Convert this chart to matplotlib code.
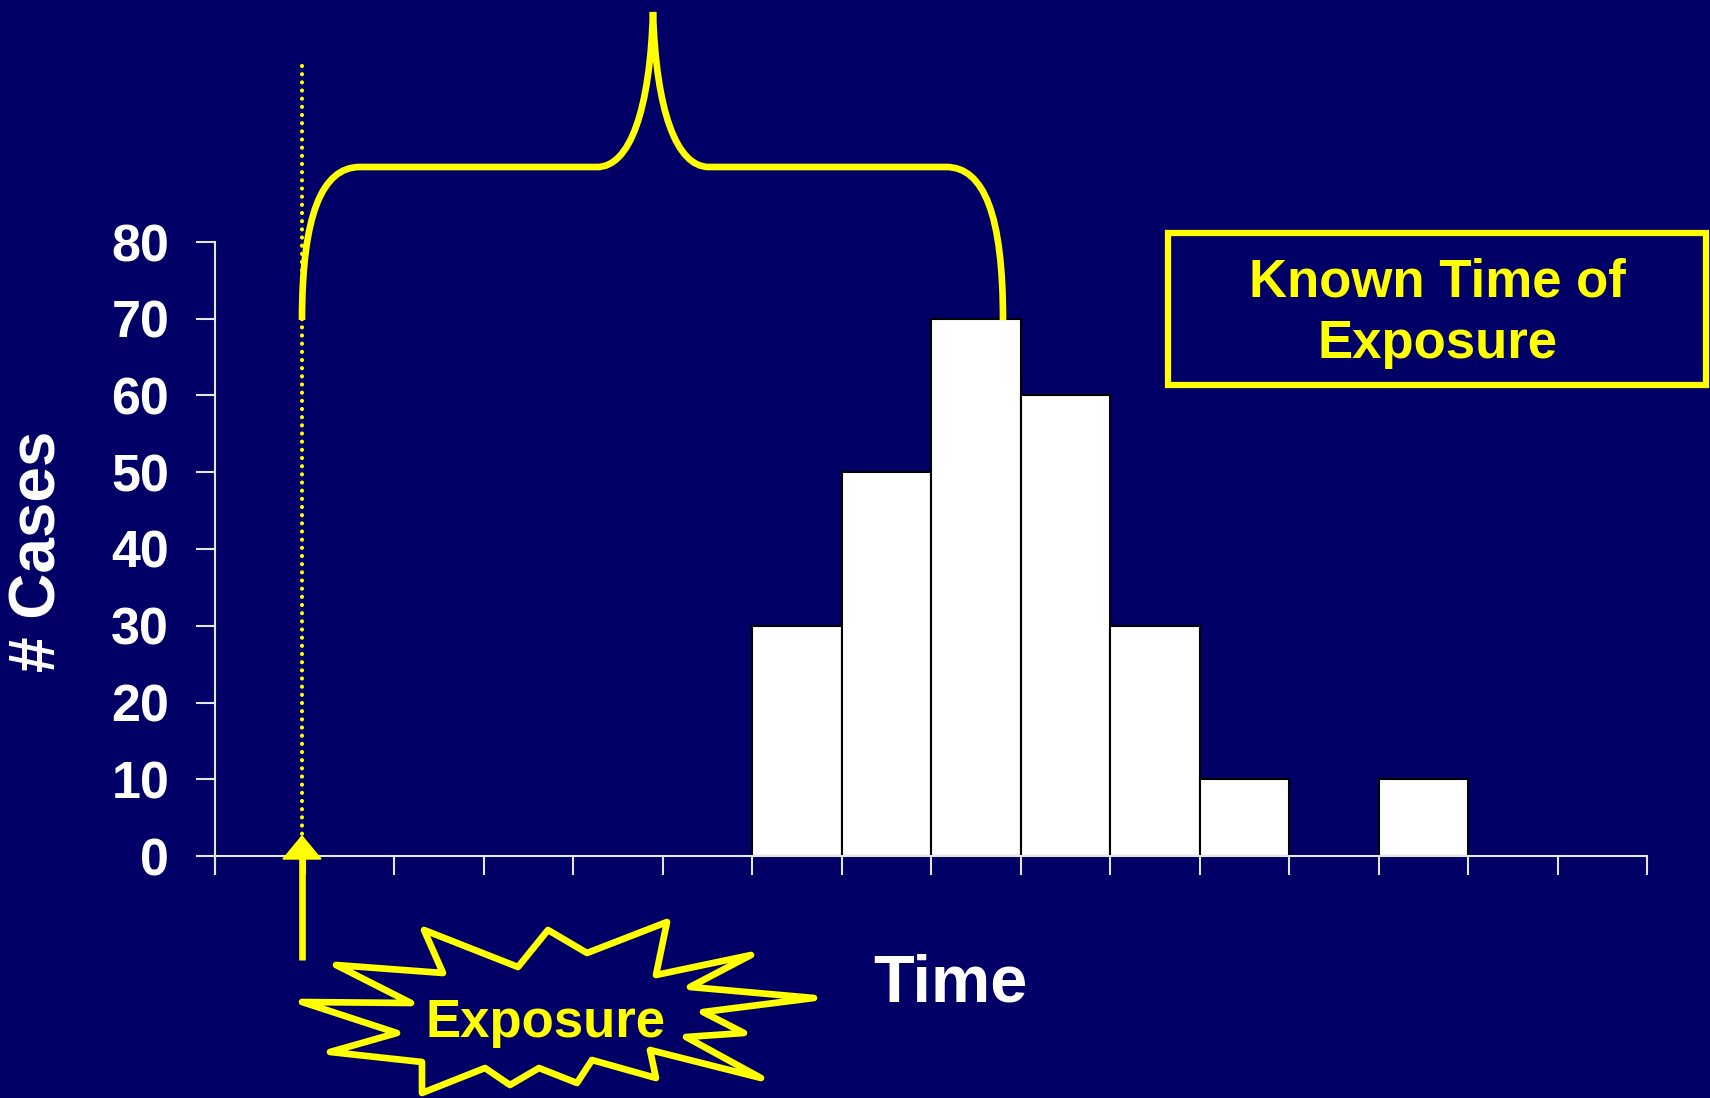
import matplotlib
matplotlib.use("Agg")
import matplotlib.pyplot as plt
from matplotlib.path import Path
from matplotlib.patches import PathPatch, Polygon, Rectangle
import numpy as np

# ---- data ----
time_bins = list(range(16))
cases = [0, 0, 0, 0, 0, 0, 30, 50, 70, 60, 30, 10, 0, 10, 0, 0]
y_ticks = [0, 10, 20, 30, 40, 50, 60, 70, 80]
x_label = "Time"
y_label = "# Cases"
box_text = "Known Time of\nExposure"
burst_text = "Exposure"

BG = "#000066"
YEL = "#FFFF00"
AXC = "#E6E6E6"
FONT = "Liberation Sans"

W, H = 1710, 1098
fig = plt.figure(figsize=(W / 100, H / 100), dpi=100, facecolor=BG)

def fx(px):
    return px / W

def fy(py):
    return 1 - py / H

# main axes: x 0..16 spans px 215..1647 ; y 0..80 spans px 856..242, extended to -2.3
ylo = -2.3
ppu = (856 - 242) / 80.0
bottom_px = 856 - ylo * ppu
ax = fig.add_axes([fx(215), fy(bottom_px), fx(1647) - fx(215), (bottom_px - 242) / H])
ax.set_facecolor(BG)
ax.bar([t + 0.5 for t in time_bins], cases, width=1.0, color="white",
       edgecolor="black", linewidth=1.5, zorder=2)
ax.set_xlim(0, 16)
ax.set_ylim(ylo, 80)
ax.set_xticks(range(17))
ax.set_xticklabels([])
ax.set_yticks(y_ticks)
ax.set_yticklabels([str(v) for v in y_ticks], fontsize=37.5, fontweight="bold",
                   color="white", family=FONT)
ax.tick_params(axis="both", direction="out", length=14, width=1.5, color=AXC)
ax.tick_params(axis="y", pad=19)
for s in ["top", "right"]:
    ax.spines[s].set_visible(False)
ax.spines["bottom"].set_position(("data", 0))
for s in ["left", "bottom"]:
    ax.spines[s].set_color(AXC)
    ax.spines[s].set_linewidth(1.5)
ax.spines["left"].set_zorder(3)

# overlay in pixel coords
ov = fig.add_axes([0, 0, 1, 1])
ov.set_xlim(0, W)
ov.set_ylim(H, 0)
ov.axis("off")
ov.patch.set_visible(False)

# dotted exposure line
ov.plot([302, 302], [66, 834], color=YEL, lw=3.0, linestyle=(0, (0.01, 1.95)),
        dash_capstyle="round")

# arrow
ov.plot([302, 302], [960, 850], color=YEL, lw=4.8, solid_capstyle="butt")
ov.add_patch(Polygon([[283, 859], [321, 859], [302, 836]], closed=True,
                     facecolor=YEL, edgecolor=YEL, lw=1))

# curly brace
verts = [(302, 320), (302, 215), (322, 167), (360, 167),
         (597, 167),
         (630, 167), (650, 110), (653, 12),
         (656, 110), (676, 167), (709, 167),
         (946, 167),
         (984, 167), (1003, 215), (1003, 320)]
codes = [Path.MOVETO, Path.CURVE4, Path.CURVE4, Path.CURVE4,
         Path.LINETO,
         Path.CURVE4, Path.CURVE4, Path.CURVE4,
         Path.CURVE4, Path.CURVE4, Path.CURVE4,
         Path.LINETO,
         Path.CURVE4, Path.CURVE4, Path.CURVE4]
ov.add_patch(PathPatch(Path(verts, codes), facecolor="none", edgecolor=YEL,
                       lw=4.8, capstyle="butt"))

# starburst
star = [(424, 930), (443, 973), (336, 965), (411, 1003), (302, 1002),
        (397, 1033), (330, 1052), (422, 1062), (422, 1093), (485, 1068),
        (510, 1085), (539, 1068), (577, 1083), (592, 1060), (656, 1078),
        (650, 1050), (761, 1078), (686, 1037), (744, 1033), (703, 1012),
        (814, 998), (690, 987), (751, 955), (656, 975), (667, 922),
        (587, 953), (548, 930), (518, 967)]
ov.add_patch(Polygon(star, closed=True, facecolor=BG, edgecolor=YEL, lw=4.8,
                     joinstyle="round"))
ov.text(545, 1023, burst_text, ha="center", va="center", fontsize=38,
        fontweight="bold", color=YEL, family=FONT)

# known time box
ov.add_patch(Rectangle((1168, 233), 538, 152, facecolor="none", edgecolor=YEL,
                       lw=4.5))
ov.text(1437, 313, box_text, ha="center", va="center", fontsize=38,
        fontweight="bold", color=YEL, family=FONT, linespacing=1.3)

# axis labels
ov.text(950, 984, x_label, ha="center", va="center", fontsize=48,
        fontweight="bold", color="white", family=FONT)
ov.text(38, 551, y_label, ha="center", va="center", fontsize=46, rotation=90,
        fontweight="bold", color="white", family=FONT)

fig.savefig("out.png", dpi=100, facecolor=BG)
